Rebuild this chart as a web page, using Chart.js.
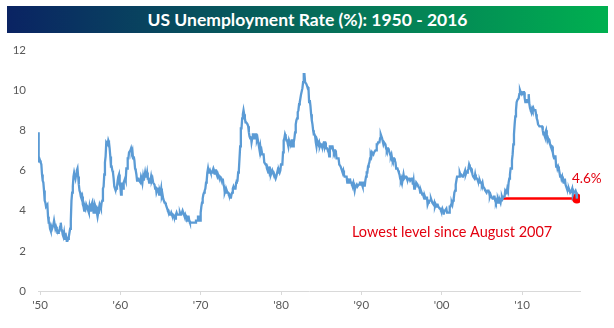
<!DOCTYPE html>
<html>
<head>
<meta charset="utf-8">
<script src="https://cdn.jsdelivr.net/npm/chart.js@4.4.1/dist/chart.umd.min.js"></script>
<style>
  html, body { margin: 0; padding: 0; background: #fff; }
  #wrap { position: relative; width: 614px; height: 328px; }
  #title {
    position: absolute; left: 7px; top: 6px; width: 601px; height: 27px;
    background: linear-gradient(to right, #0a2363 0%, #066a5a 50%, #00b050 100%);
    color: #fff; font: bold 17.5px Lato, sans-serif; text-align: center; line-height: 27px;
  }
  #chart { position: absolute; left: 0; top: 0; }
</style>
</head>
<body>
<div id="wrap">
  <canvas id="chart" width="614" height="328"></canvas>
  <div id="title">US Unemployment Rate (%): 1950 - 2016</div>
</div>
<script>
// monthly US unemployment rate (%), starting Oct 1949
const startYear = 1949;
const startMonth = 9; // October (0-based)

const rate1940s = [7.9, 6.4, 6.6];
const rate1950s = [
  6.5, 6.4, 6.3, 5.8, 5.5, 5.4, 5.0, 4.5, 4.4, 4.2, 4.2, 4.3,
  3.7, 3.4, 3.4, 3.1, 3.0, 3.2, 3.1, 3.1, 3.3, 3.5, 3.5, 3.1,
  3.2, 3.1, 2.9, 2.9, 3.0, 3.0, 3.2, 3.4, 3.1, 3.0, 2.8, 2.7,
  2.9, 2.6, 2.6, 2.7, 2.5, 2.5, 2.6, 2.7, 2.9, 3.1, 3.5, 4.5,
  4.9, 5.2, 5.7, 5.9, 5.9, 5.6, 5.8, 6.0, 6.1, 5.7, 5.3, 5.0,
  4.9, 4.7, 4.6, 4.7, 4.3, 4.2, 4.0, 4.2, 4.1, 4.3, 4.2, 4.2,
  4.0, 3.9, 4.2, 4.0, 4.3, 4.3, 4.4, 4.1, 3.9, 3.9, 4.3, 4.2,
  4.2, 3.9, 3.7, 3.9, 4.1, 4.3, 4.2, 4.1, 4.4, 4.5, 5.1, 5.2,
  5.8, 6.4, 6.7, 7.4, 7.4, 7.3, 7.5, 7.4, 7.1, 6.7, 6.2, 6.2,
  6.0, 5.9, 5.6, 5.2, 5.1, 5.0, 5.1, 5.2, 5.5, 5.7, 5.8, 5.3
];
const rate1960s = [
  5.2, 4.8, 5.4, 5.2, 5.1, 5.4, 5.5, 5.6, 5.5, 6.1, 6.1, 6.6,
  6.6, 6.9, 6.9, 7.0, 7.1, 6.9, 7.0, 6.6, 6.7, 6.5, 6.1, 6.0,
  5.8, 5.5, 5.6, 5.6, 5.5, 5.5, 5.4, 5.7, 5.6, 5.4, 5.7, 5.5,
  5.7, 5.9, 5.7, 5.7, 5.9, 5.6, 5.6, 5.4, 5.5, 5.5, 5.7, 5.5,
  5.6, 5.4, 5.4, 5.3, 5.1, 5.2, 4.9, 5.0, 5.1, 5.1, 4.8, 5.0,
  4.9, 5.1, 4.7, 4.8, 4.6, 4.6, 4.4, 4.4, 4.3, 4.2, 4.1, 4.0,
  4.0, 3.8, 3.8, 3.8, 3.9, 3.8, 3.8, 3.8, 3.7, 3.7, 3.6, 3.8,
  3.9, 3.8, 3.8, 3.8, 3.8, 3.9, 3.8, 3.8, 3.8, 4.0, 3.9, 3.8,
  3.7, 3.8, 3.7, 3.5, 3.5, 3.7, 3.7, 3.5, 3.4, 3.4, 3.4, 3.4,
  3.4, 3.4, 3.4, 3.4, 3.4, 3.5, 3.5, 3.5, 3.7, 3.7, 3.5, 3.5
];
const rate1970s = [
  3.9, 4.2, 4.4, 4.6, 4.8, 4.9, 5.0, 5.1, 5.4, 5.5, 5.9, 6.1,
  5.9, 5.9, 6.0, 5.9, 5.9, 5.9, 6.0, 6.1, 6.0, 5.8, 6.0, 6.0,
  5.8, 5.7, 5.8, 5.7, 5.7, 5.7, 5.6, 5.6, 5.5, 5.6, 5.3, 5.2,
  4.9, 5.0, 4.9, 5.0, 4.9, 4.9, 4.8, 4.8, 4.8, 4.6, 4.8, 4.9,
  5.1, 5.2, 5.1, 5.1, 5.1, 5.4, 5.5, 5.5, 5.9, 6.0, 6.6, 7.2,
  8.1, 8.1, 8.6, 8.8, 9.0, 8.8, 8.6, 8.4, 8.4, 8.4, 8.3, 8.2,
  7.9, 7.7, 7.6, 7.7, 7.4, 7.6, 7.8, 7.8, 7.6, 7.7, 7.8, 7.8,
  7.5, 7.6, 7.4, 7.2, 7.0, 7.2, 6.9, 7.0, 6.8, 6.8, 6.8, 6.4,
  6.4, 6.3, 6.3, 6.1, 6.0, 5.9, 6.2, 5.9, 6.0, 5.8, 5.9, 6.0,
  5.9, 5.9, 5.8, 5.8, 5.6, 5.7, 5.7, 6.0, 5.9, 6.0, 5.9, 6.0
];
const rate1980s = [
  6.3, 6.3, 6.3, 6.9, 7.5, 7.6, 7.8, 7.7, 7.5, 7.5, 7.5, 7.2,
  7.5, 7.4, 7.4, 7.2, 7.5, 7.5, 7.2, 7.4, 7.6, 7.9, 8.3, 8.5,
  8.6, 8.9, 9.0, 9.3, 9.4, 9.6, 9.8, 9.8, 10.1, 10.4, 10.8, 10.8,
  10.4, 10.4, 10.3, 10.2, 10.1, 10.1, 9.4, 9.5, 9.2, 8.8, 8.5, 8.3,
  8.0, 7.8, 7.8, 7.7, 7.4, 7.2, 7.5, 7.5, 7.3, 7.4, 7.2, 7.3,
  7.3, 7.2, 7.2, 7.3, 7.2, 7.4, 7.4, 7.1, 7.1, 7.1, 7.0, 7.0,
  6.7, 7.2, 7.2, 7.1, 7.2, 7.2, 7.0, 6.9, 7.0, 7.0, 6.9, 6.6,
  6.6, 6.6, 6.6, 6.3, 6.3, 6.2, 6.1, 6.0, 5.9, 6.0, 5.8, 5.7,
  5.7, 5.7, 5.7, 5.4, 5.6, 5.4, 5.4, 5.6, 5.4, 5.4, 5.3, 5.3,
  5.4, 5.2, 5.0, 5.2, 5.2, 5.3, 5.2, 5.2, 5.3, 5.3, 5.4, 5.4
];
const rate1990s = [
  5.4, 5.3, 5.2, 5.4, 5.4, 5.2, 5.5, 5.7, 5.9, 5.9, 6.2, 6.3,
  6.4, 6.6, 6.8, 6.7, 6.9, 6.9, 6.8, 6.9, 6.9, 7.0, 7.0, 7.3,
  7.3, 7.4, 7.4, 7.4, 7.6, 7.8, 7.7, 7.6, 7.6, 7.3, 7.4, 7.4,
  7.3, 7.1, 7.0, 7.1, 7.1, 7.0, 6.9, 6.8, 6.7, 6.8, 6.6, 6.5,
  6.6, 6.6, 6.5, 6.4, 6.1, 6.1, 6.1, 6.0, 5.9, 5.8, 5.6, 5.5,
  5.6, 5.4, 5.4, 5.8, 5.6, 5.6, 5.7, 5.7, 5.6, 5.5, 5.6, 5.6,
  5.6, 5.5, 5.5, 5.6, 5.6, 5.3, 5.5, 5.1, 5.2, 5.2, 5.4, 5.4,
  5.3, 5.2, 5.2, 5.1, 4.9, 5.0, 4.9, 4.8, 4.9, 4.7, 4.6, 4.7,
  4.6, 4.6, 4.7, 4.3, 4.4, 4.5, 4.5, 4.5, 4.6, 4.5, 4.4, 4.4,
  4.3, 4.4, 4.2, 4.3, 4.2, 4.3, 4.3, 4.2, 4.2, 4.1, 4.1, 4.0
];
const rate2000s = [
  4.0, 4.1, 4.0, 3.8, 4.0, 4.0, 4.0, 4.1, 3.9, 3.9, 3.9, 3.9,
  4.2, 4.2, 4.3, 4.4, 4.3, 4.5, 4.6, 4.9, 5.0, 5.3, 5.5, 5.7,
  5.7, 5.7, 5.7, 5.9, 5.8, 5.8, 5.8, 5.7, 5.7, 5.7, 5.9, 6.0,
  5.8, 5.9, 5.9, 6.0, 6.1, 6.3, 6.2, 6.1, 6.1, 6.0, 5.8, 5.7,
  5.7, 5.6, 5.8, 5.6, 5.6, 5.6, 5.5, 5.4, 5.4, 5.5, 5.4, 5.4,
  5.3, 5.4, 5.2, 5.2, 5.1, 5.0, 5.0, 4.9, 5.0, 5.0, 5.0, 4.9,
  4.7, 4.8, 4.7, 4.7, 4.6, 4.6, 4.7, 4.7, 4.5, 4.4, 4.5, 4.4,
  4.6, 4.5, 4.4, 4.5, 4.4, 4.6, 4.7, 4.6, 4.7, 4.7, 4.7, 5.0,
  5.0, 4.9, 5.1, 5.0, 5.4, 5.6, 5.8, 6.1, 6.1, 6.5, 6.8, 7.3,
  7.8, 8.3, 8.7, 9.0, 9.4, 9.5, 9.5, 9.6, 9.8, 10.0, 9.9, 9.9
];
const rate2010s = [
  9.8, 9.8, 9.9, 9.9, 9.6, 9.4, 9.4, 9.5, 9.5, 9.4, 9.8, 9.3,
  9.1, 9.0, 9.0, 9.1, 9.0, 9.1, 9.0, 9.0, 9.0, 8.8, 8.6, 8.5,
  8.3, 8.3, 8.2, 8.2, 8.2, 8.2, 8.2, 8.0, 7.8, 7.8, 7.7, 7.9,
  8.0, 7.7, 7.5, 7.6, 7.5, 7.5, 7.3, 7.2, 7.2, 7.2, 6.9, 6.7,
  6.6, 6.7, 6.7, 6.2, 6.3, 6.1, 6.2, 6.1, 5.9, 5.7, 5.8, 5.6,
  5.7, 5.5, 5.4, 5.4, 5.6, 5.3, 5.2, 5.1, 5.0, 5.0, 5.1, 5.0,
  4.9, 4.9, 5.0, 5.1, 4.8, 4.9, 4.9, 4.9, 5.0, 4.9, 4.6
];

// annotation: lowest since Aug 2007 (4.6) -> Nov 2016 (4.6)
const lowFrom = { year: 2007, month: 7, value: 4.6 };
const lowTo = { year: 2016, month: 10, value: 4.6 };
const lowLabel = "Lowest level since August 2007";
const lastLabel = "4.6%";

const yTicks = [0, 2, 4, 6, 8, 10, 12];
const xTicks = [1950, 1960, 1970, 1980, 1990, 2000, 2010];

const allRates = [].concat(rate1940s, rate1950s, rate1960s, rate1970s, rate1980s, rate1990s, rate2000s, rate2010s);
const points = allRates.map((v, i) => ({ x: startYear + (startMonth + i) / 12, y: v }));

const lowPoints = [
  { x: lowFrom.year + lowFrom.month / 12, y: lowFrom.value },
  { x: lowTo.year + lowTo.month / 12, y: lowTo.value }
];

const textPlugin = {
  id: "textPlugin",
  afterDatasetsDraw(chart) {
    const ctx = chart.ctx;
    const xs = chart.scales.x, ys = chart.scales.y;
    ctx.save();
    ctx.fillStyle = "#e3000f";
    ctx.textBaseline = "middle";
    // big label under the red line
    ctx.font = "14.5px Lato";
    ctx.textAlign = "center";
    ctx.fillText(lowLabel, xs.getPixelForValue(2001.3), ys.getPixelForValue(2.94));
    // value label next to the dot
    ctx.font = "13.5px Lato";
    ctx.textAlign = "left";
    const px = xs.getPixelForValue(lowPoints[1].x);
    const py = ys.getPixelForValue(lowPoints[1].y);
    ctx.fillText(lastLabel, px - 5, py - 20);
    ctx.restore();
  }
};

const ctx = document.getElementById("chart").getContext("2d");
const myChart = new Chart(ctx, {
  type: "line",
  data: {
    datasets: [
      {
        label: "Unemployment",
        data: points,
        borderColor: "#5b9bd5",
        borderWidth: 2.3,
        pointRadius: 0,
        tension: 0
      },
      {
        label: "Lowest",
        data: lowPoints,
        borderColor: "#ff0000",
        backgroundColor: "#ff0000",
        borderWidth: 2.5,
        pointRadius: [0, 5],
        pointBorderWidth: 0
      }
    ]
  },
  options: {
    responsive: false,
    animation: false,
    layout: { padding: { top: 50, right: 34, left: 0, bottom: 0 } },
    plugins: {
      legend: { display: false },
      tooltip: { enabled: false }
    },
    scales: {
      x: {
        type: "linear",
        min: 1949.75,
        max: 2017.22,
        afterBuildTicks: scale => { scale.ticks = xTicks.map(v => ({ value: v })); },
        afterFit: scale => { scale.height = 37; },
        grid: { display: true, drawOnChartArea: false, drawTicks: true, tickLength: 4, color: "#d9d9d9" },
        border: { display: true, color: "#d9d9d9", width: 1 },
        ticks: {
          padding: 3,
          color: "#595959",
          font: { family: "Lato", size: 11.5 },
          maxRotation: 0,
          callback: v => "'" + String(v).slice(2)
        }
      },
      y: {
        min: 0,
        max: 12,
        afterBuildTicks: scale => { scale.ticks = yTicks.map(v => ({ value: v })); },
        afterFit: scale => { scale.width = 38; },
        grid: { display: false, drawTicks: false },
        border: { display: false },
        ticks: {
          padding: 12,
          color: "#595959",
          font: { family: "Lato", size: 11.5 }
        }
      }
    }
  },
  plugins: [textPlugin]
});
</script>
</body>
</html>
